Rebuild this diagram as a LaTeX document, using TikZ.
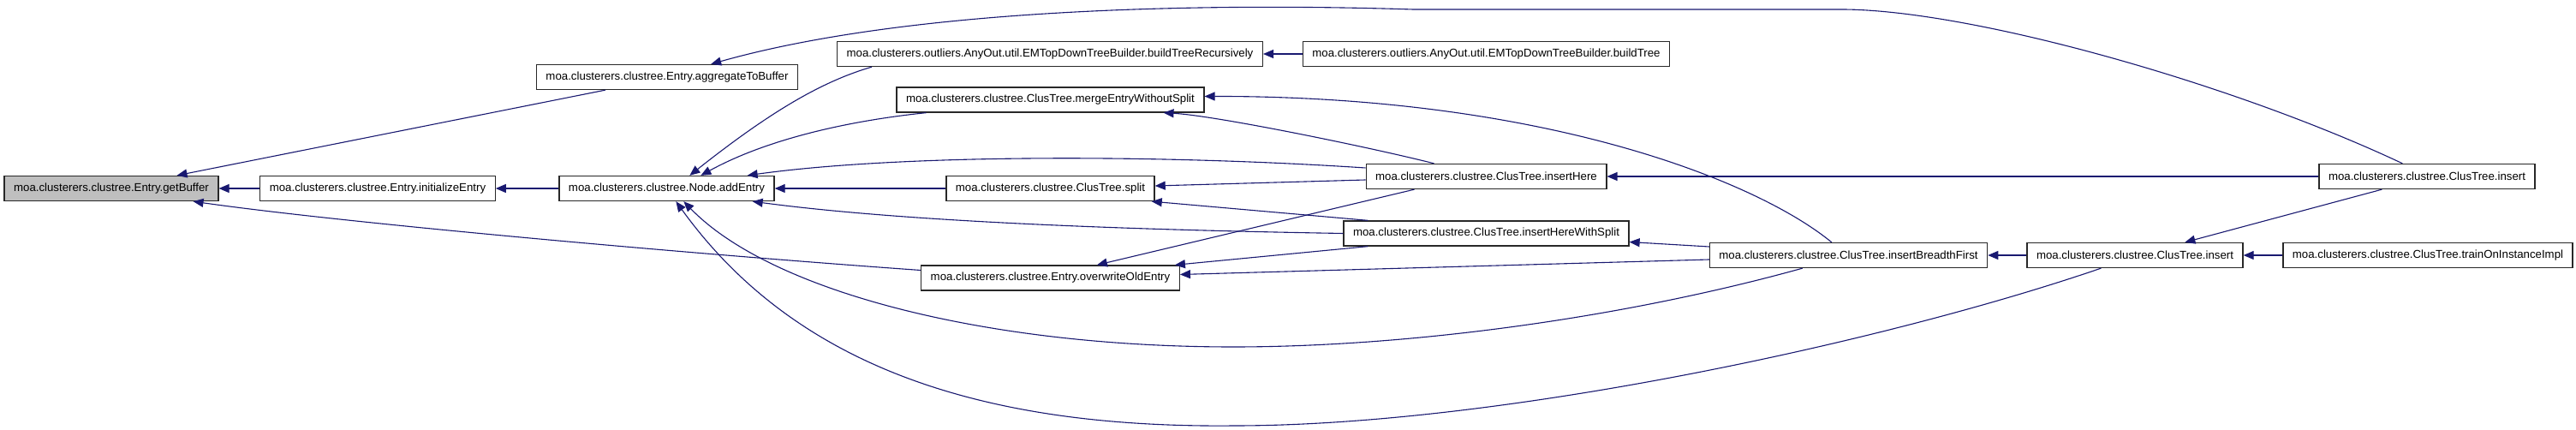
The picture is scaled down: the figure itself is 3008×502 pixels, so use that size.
\documentclass[tikz,border=0pt]{standalone}
\usepackage{fontspec}
\setmainfont{Liberation Sans}
\usetikzlibrary{arrows.meta}
\definecolor{dxblue}{RGB}{25, 25, 112}
\definecolor{dxgray}{RGB}{191, 191, 191}
\definecolor{dxborder}{RGB}{40, 40, 40}

\begin{document}
\begin{tikzpicture}[
    x=1pt, y=-1pt,
    fn/.style={rectangle, draw=dxborder, line width=1.3pt, fill=white,
               minimum height=29pt, inner xsep=11pt, inner ysep=0pt,
               font=\fontsize{13.25}{15}\selectfont},
    root/.style={fn, fill=dxgray},
    call/.style={-{Triangle[length=12pt, width=10pt]}, line width=1.1pt, color=dxblue}
]
    \useasboundingbox (0,0) rectangle (3008,502);

    \node[root] (gb) at (130,220) {moa.clusterers.clustree.Entry.getBuffer};
    \node[fn] (ie) at (441,220) {moa.clusterers.clustree.Entry.initializeEntry};
    \node[fn] (ae) at (778.5,220) {moa.clusterers.clustree.Node.addEntry};
    \node[fn] (ab) at (779,90) {moa.clusterers.clustree.Entry.aggregateToBuffer};
    \node[fn] (btr) at (1226,63) {moa.clusterers.outliers.AnyOut.util.EMTopDownTreeBuilder.buildTreeRecursively};
    \node[fn] (mews) at (1226.5,116.5) {moa.clusterers.clustree.ClusTree.mergeEntryWithoutSplit};
    \node[fn] (sp) at (1226.5,220) {moa.clusterers.clustree.ClusTree.split};
    \node[fn] (ooe) at (1226.5,324.5) {moa.clusterers.clustree.Entry.overwriteOldEntry};
    \node[fn] (bt) at (1735.5,63) {moa.clusterers.outliers.AnyOut.util.EMTopDownTreeBuilder.buildTree};
    \node[fn] (ih) at (1735.5,206) {moa.clusterers.clustree.ClusTree.insertHere};
    \node[fn] (ihws) at (1735.5,272.5) {moa.clusterers.clustree.ClusTree.insertHereWithSplit};
    \node[fn] (ibf) at (2158.5,298) {moa.clusterers.clustree.ClusTree.insertBreadthFirst};
    \node[fn] (ins) at (2493,298) {moa.clusterers.clustree.ClusTree.insert};
    \node[fn] (toi) at (2835,298) {moa.clusterers.clustree.ClusTree.trainOnInstanceImpl};
    \node[fn] (inst) at (2834,206) {moa.clusterers.clustree.ClusTree.insert};

    \draw[call] (ie) -- (gb);
    \draw[call] ([xshift=81pt]ab.south west) -- ([xshift=-49pt]gb.north east);
    \draw[call] ([yshift=9pt]ooe.west) .. controls (800,296) and (400,260) .. ([xshift=-30pt]gb.south east);
    \draw[call] (ae) -- (ie);
    \draw[call] ([xshift=98pt]inst.north west) .. controls (2606,97) and (2300,11) .. (2150,11)
        -- (1650,11) .. controls (1400,3) and (1060,10) .. ([xshift=-102pt]ab.north east);
    \draw[call] ([xshift=41pt]btr.south west) .. controls (960,95) and (900,130) .. ([xshift=153pt]ae.north west);
    \draw[call] ([xshift=35pt]mews.south west) .. controls (1000,140) and (900,160) .. ([xshift=166pt]ae.north west);
    \draw[call] ([yshift=10pt]ih.west) .. controls (1350,180) and (1050,180) .. ([xshift=-32pt]ae.north east);
    \draw[call] (sp) -- (ae);
    \draw[call] (ihws.west) .. controls (1300,268) and (1050,258) .. ([xshift=-26pt]ae.south east);
    \draw[call] ([xshift=109pt]ibf.south west) .. controls (1900,370) and (1650,405) .. (1440,405)
        .. controls (1150,405) and (900,340) .. ([xshift=146pt]ae.south west);
    \draw[call] ([xshift=87pt]ins.south west) .. controls (2200,400) and (1750,497) .. (1441,497)
        .. controls (1150,500) and (930,430) .. ([xshift=137pt]ae.south west);
    \draw[call] (bt) -- (btr);
    \draw[call] ([xshift=80pt]ih.north west) .. controls (1600,172) and (1420,135) .. ([xshift=-48pt]mews.south east);
    \draw[call] ([xshift=143pt]ibf.north west) .. controls (2050,210) and (1800,112) .. ([yshift=4pt]mews.east);
    \draw[call] ([yshift=-4pt]ih.west) -- ([yshift=3pt]sp.east);
    \draw[call] ([xshift=29pt]ihws.north west) -- ([xshift=-4pt]sp.south east);
    \draw[call] ([xshift=57pt]ih.south west) -- ([xshift=-97pt]ooe.north east);
    \draw[call] ([xshift=29pt]ihws.south west) -- ([xshift=-6pt]ooe.north east);
    \draw[call] ([yshift=-5pt]ibf.west) -- ([yshift=4pt]ooe.east);
    \draw[call] ([yshift=10pt]ibf.west) -- ([yshift=-10pt]ihws.east);
    \draw[call] (inst) -- (ih);
    \draw[call] (ins) -- (ibf);
    \draw[call] ([xshift=74pt]inst.south west) -- ([xshift=185pt]ins.north west);
    \draw[call] (toi) -- (ins);
\end{tikzpicture}
\end{document}
